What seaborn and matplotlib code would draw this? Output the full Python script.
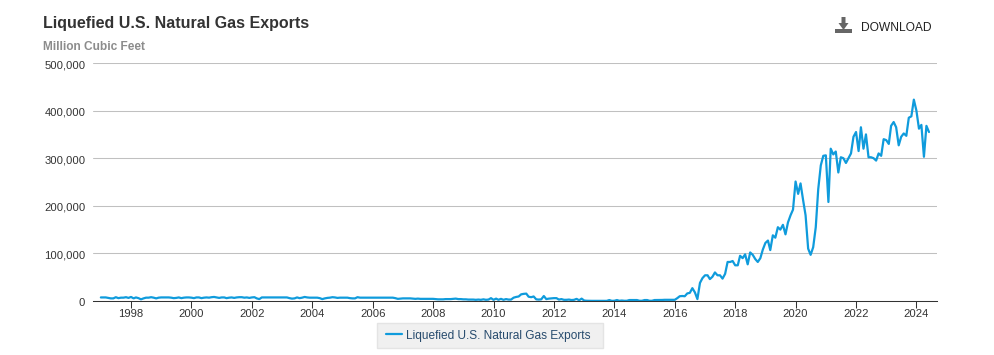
import pandas as pd
import matplotlib
matplotlib.use('Agg')
import matplotlib.pyplot as plt
import matplotlib.dates as mdates
from matplotlib.patches import Polygon, Rectangle
from matplotlib.ticker import FuncFormatter
from matplotlib.transforms import ScaledTranslation
import seaborn as sns

# Monthly values, million cubic feet
y1997 = [7500, 7500, 7500, 6500, 5500, 5500, 8000, 6000, 7000, 7000, 8000, 6500]
y1998 = [8500, 5500, 7500, 6000, 3500, 5500, 7000, 7000, 8000, 7000, 5500, 7000]
y1999 = [7500, 7500, 7500, 7500, 7000, 6000, 6500, 7500, 6000, 7000, 7500, 7500]
y2000 = [7000, 6000, 7500, 7500, 6000, 7000, 7500, 7000, 8000, 8500, 7500, 6500]
y2001 = [7500, 7500, 6000, 7000, 7500, 6500, 7500, 8000, 8000, 7000, 7500, 6500]
y2002 = [7500, 8000, 5500, 4000, 7500, 7500, 7500, 7500, 7500, 7500, 7500, 7500]
y2003 = [7500, 7500, 7500, 6000, 5000, 5500, 7500, 6000, 7000, 8500, 7500, 7000]
y2004 = [7000, 7000, 7000, 6000, 4000, 5500, 6500, 7000, 8000, 7500, 6500, 7000]
y2005 = [7000, 7000, 7000, 6000, 5500, 5500, 8000, 7000, 7000, 7000, 7000, 7000]
y2006 = [7000, 7000, 7000, 7000, 7000, 7000, 7000, 7000, 7000, 6000, 4500, 5000]
y2007 = [5500, 5500, 5500, 5500, 5000, 4500, 5000, 4500, 4500, 4500, 4500, 4500]
y2008 = [4500, 4000, 3500, 3500, 3500, 4000, 4000, 4000, 4500, 5000, 4000, 4000]
y2009 = [3500, 3500, 3000, 3000, 3000, 2500, 3000, 2500, 3500, 2500, 3000, 6000]
y2010 = [2500, 5000, 2500, 4500, 2500, 4000, 3000, 3000, 7000, 8500, 9500, 14000]
y2011 = [15000, 15500, 9000, 8000, 9500, 3500, 3000, 3500, 10500, 4000, 5000, 5500]
y2012 = [6000, 6000, 3000, 4000, 2500, 2500, 3000, 2000, 2500, 4500, 1500, 5000]
y2013 = [1000, 500, 300, 300, 300, 300, 300, 300, 300, 300, 2000, 300]
y2014 = [500, 2000, 500, 1000, 500, 500, 2000, 2000, 2000, 2000, 500, 500]
y2015 = [2000, 2000, 500, 500, 2000, 2000, 2000, 2200, 2500, 2500, 2500, 2500]
y2016 = [2500, 6000, 10000, 10500, 10000, 16000, 17000, 27000, 18000, 4000, 38000, 48000]
y2017 = [54000, 54000, 46000, 51000, 60000, 54000, 54000, 47000, 57000, 82000, 82000, 84000]
y2018 = [75000, 75000, 95000, 90000, 98000, 77000, 102000, 97000, 88000, 82000, 90000, 108000]
y2019 = [122000, 127000, 107000, 138000, 133000, 155000, 150000, 160000, 140000, 165000, 180000, 192000]
y2020 = [251000, 225000, 247000, 212000, 180000, 110000, 97000, 113000, 155000, 235000, 285000, 305000]
y2021 = [306000, 208000, 320000, 308000, 314000, 270000, 302000, 300000, 290000, 300000, 310000, 345000]
y2022 = [355000, 315000, 365000, 320000, 350000, 302000, 302000, 300000, 295000, 310000, 305000, 340000]
y2023 = [338000, 330000, 368000, 376000, 365000, 327000, 345000, 352000, 347000, 385000, 388000, 423000]
y2024 = [400000, 362000, 370000, 303000, 368000, 355000]

values = (y1997 + y1998 + y1999 + y2000 + y2001 + y2002 + y2003 + y2004 + y2005 + y2006
          + y2007 + y2008 + y2009 + y2010 + y2011 + y2012 + y2013 + y2014 + y2015 + y2016
          + y2017 + y2018 + y2019 + y2020 + y2021 + y2022 + y2023 + y2024)
dates = pd.date_range('1997-01-01', periods=len(values), freq='MS')
df = pd.DataFrame({'date': dates, 'value': values})

sns.set_theme(style='white')
plt.rcParams['font.family'] = ['Liberation Sans', 'DejaVu Sans']

W, H = 994, 355
fig = plt.figure(figsize=(W / 100, H / 100), dpi=100)
ax = fig.add_axes([93 / W, (H - 301) / H, 844 / W, 238 / H])

sns.lineplot(data=df, x='date', y='value', color='#0f9bdc', linewidth=1.6,
             label='Liquefied U.S. Natural Gas Exports', ax=ax)

ax.set_ylim(0, 500000)
ax.set_xlim(pd.Timestamp('1996-09-28'), pd.Timestamp('2024-09-06'))
ax.set_xlabel('')
ax.set_ylabel('')
ax.yaxis.set_major_formatter(FuncFormatter(lambda v, p: f'{int(v):,}'))
ax.set_yticks([0, 100000, 200000, 300000, 400000, 500000])
ax.xaxis.set_major_locator(mdates.YearLocator(2))
ax.xaxis.set_major_formatter(mdates.DateFormatter('%Y'))
ax.grid(True, axis='y', color='#c0c0c0', linewidth=0.75)
ax.set_axisbelow(True)
for s in ['top', 'left', 'right']:
    ax.spines[s].set_visible(False)
ax.spines['bottom'].set_color('#333333')
ax.spines['bottom'].set_linewidth(0.75)
ax.tick_params(axis='x', length=5, width=0.75, color='#333333', labelcolor='#333333',
               labelsize=8.1, pad=1, bottom=True)
ax.tick_params(axis='y', length=0, labelcolor='#333333', labelsize=8.1, pad=5.5)

# y labels sit one pixel lower than the gridline centre
down = ScaledTranslation(0, -1 / 100, fig.dpi_scale_trans)
for t in ax.get_yticklabels():
    t.set_transform(t.get_transform() + down)

leg = ax.legend(loc='center', bbox_to_anchor=(488.3 / W, (H - 335.5) / H),
                bbox_transform=fig.transFigure, frameon=False, fontsize=8.55,
                handlelength=1.4, handletextpad=0.35, borderpad=0.6, borderaxespad=0)
leg.get_texts()[0].set_color('#274b6d')


# Pixel positions from the top left
def px(x, y):
    return (x / W, (H - y) / H)


fig.patches.append(Rectangle(px(377, 348), 226 / W, 25 / H, transform=fig.transFigure,
                             facecolor='#f0f0f0', edgecolor='#e4e4e4', linewidth=1, zorder=-1))

fig.text(43 / W, (H - 23.5) / H, 'Liquefied U.S. Natural Gas Exports', fontsize=11.5,
         fontweight='bold', color='#333333', va='center')
fig.text(43 / W, (H - 47) / H, 'Million Cubic Feet', fontsize=8.6,
         fontweight='bold', color='#8c8c8c', va='center')
fig.text(861 / W, (H - 28) / H, 'DOWNLOAD', fontsize=8.65, color='#222222', va='center')

# Download icon
fig.patches.append(Rectangle(px(835, 33), 17 / W, 4 / H, transform=fig.transFigure,
                             facecolor='#666666', edgecolor='none'))
arrow = [px(841.5, 17), px(845.5, 17), px(845.5, 23), px(848.5, 23), px(843.5, 30),
         px(838.5, 23), px(841.5, 23)]
fig.patches.append(Polygon(arrow, closed=True, transform=fig.transFigure,
                           facecolor='#666666', edgecolor='none'))

fig.savefig('out.png', dpi=100)
